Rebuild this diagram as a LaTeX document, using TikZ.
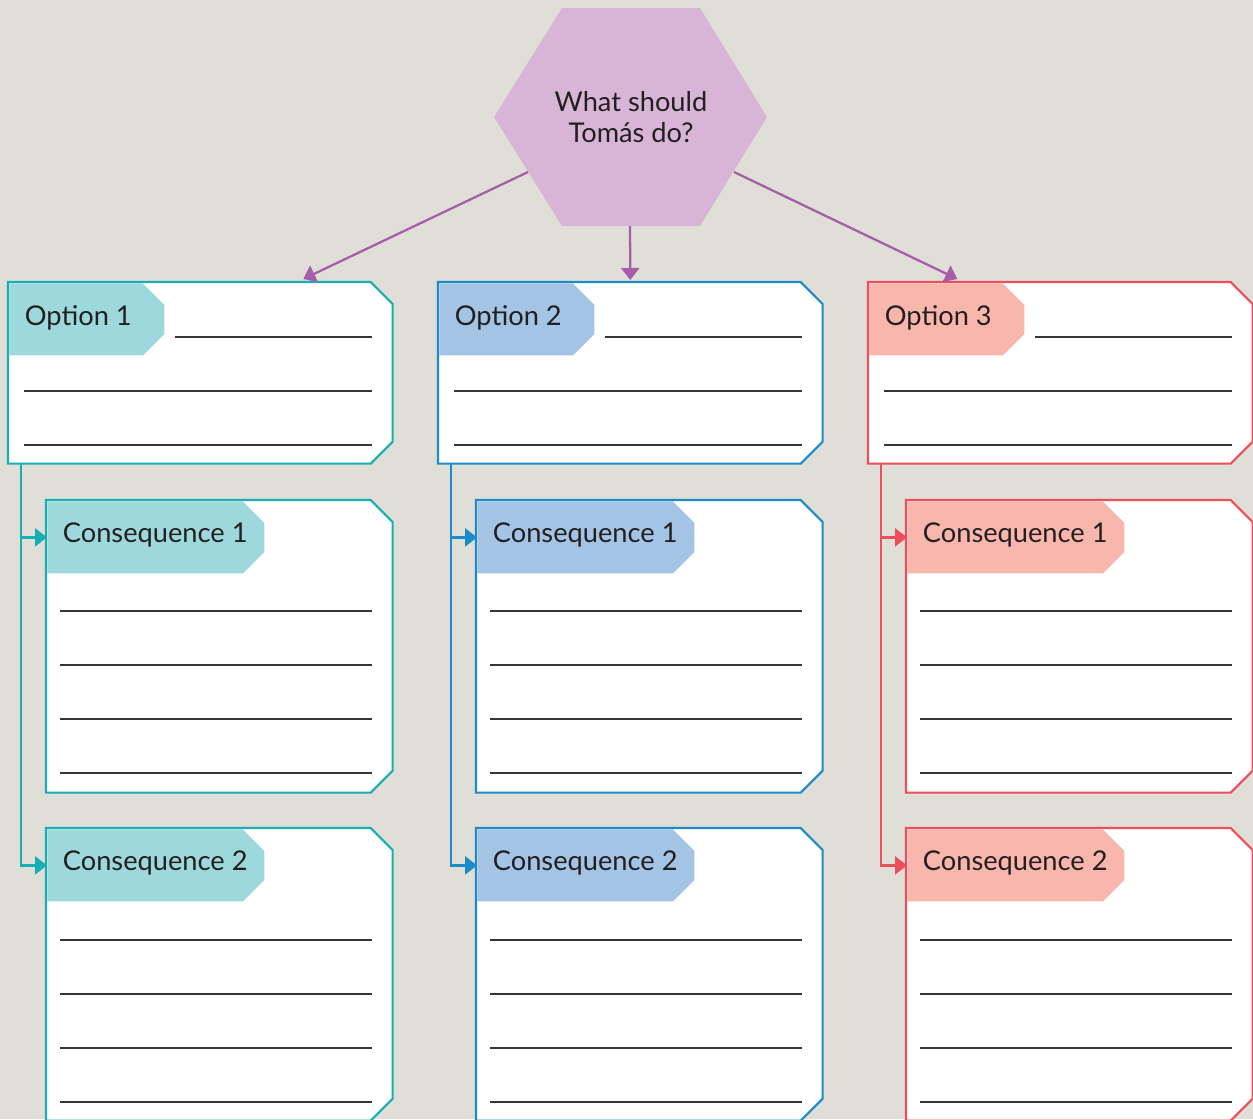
\documentclass[tikz,border=0pt]{standalone}
\usepackage{fontspec}
\setmainfont{Lato}
\usetikzlibrary{arrows.meta}
\definecolor{paper}{HTML}{E0DFD7}
\definecolor{ink}{HTML}{231F20}
\definecolor{hexfill}{HTML}{D8B5D6}
\definecolor{hexline}{HTML}{A65EAA}
\definecolor{tealline}{HTML}{17AEB5}
\definecolor{tealtab}{HTML}{9DD9DC}
\definecolor{blueline}{HTML}{1B8BC9}
\definecolor{bluetab}{HTML}{A3C4E4}
\definecolor{redline}{HTML}{EE4D5B}
\definecolor{redtab}{HTML}{F9B6AD}

\begin{document}
\begin{tikzpicture}[x=0.02cm,y=-0.02cm,
edge/.style={draw,fill=white,line width=1.2pt},
tabfill/.style={fill},
card/.style={%
rectangle,
anchor=north west,
inner sep=0pt,
append after command={\pgfextra{%
\draw[edge] (\tikzlastnode.north west) -- ([xshift=-4.4mm]\tikzlastnode.north east)
 -- ([yshift=-4.4mm]\tikzlastnode.north east) -- ([yshift=4.4mm]\tikzlastnode.south east)
 -- ([xshift=-4.4mm]\tikzlastnode.south east) -- (\tikzlastnode.south west) -- cycle;}}
},
tab/.style={%
rectangle,
anchor=north west,
minimum height=14.4mm,
inner sep=0pt,
path picture={%
\fill[tabfill] (path picture bounding box.north west) -- ([xshift=-4.3mm]path picture bounding box.north east)
 -- ([yshift=-4.3mm]path picture bounding box.north east) -- ([yshift=4.3mm]path picture bounding box.south east)
 -- ([xshift=-4.3mm]path picture bounding box.south east) -- (path picture bounding box.south west) -- cycle;}
},
tag/.style={%
font=\fontsize{15.5}{17.5}\selectfont,
text=ink,
anchor=west,
inner sep=0pt,
xshift=3.1mm,
yshift=0.4mm,
},
rule/.style={line width=0.8pt,draw=ink!90},
link/.style={line width=1.3pt,-{Triangle[length=2.4mm,width=3.6mm]}},
]
\useasboundingbox (0,0) rectangle (1253,1119);
\clip (0,0) rectangle (1253,1119);
\fill[paper] (0,0) rectangle (1253,1119);
%% question
\fill[hexfill] (562,8) -- (700,8) -- (767,117) -- (700,226) -- (562,226) -- (494,117) -- cycle;
\node[font=\fontsize{15.5}{17.5}\selectfont,text=ink,align=center] at (631,117) (q) {What should\\Tomás do?};
\coordinate (qw) at (528,172);
\coordinate (qs) at (630,226);
\coordinate (qe) at (734,172);
\begin{scope}[edge/.append style={draw=tealline},tabfill/.append style={fill=tealtab},link/.append style={color=tealline}]
%% Option 1
\node[card,minimum width=76.8mm,minimum height=36.2mm]at(8,282)(o1){};
\node[tab,minimum width=31mm,label={[tag]west:Option 1}]at([shift={(0.6pt,-0.6pt)}]o1.north west)(o1t){};
\draw[rule] (175,337) -- (372,337) (24,391) -- (372,391) (24,445) -- (372,445);
\node[card,minimum width=69.2mm,minimum height=58.4mm]at(46,500)(a1){};
\node[tab,minimum width=43.4mm,label={[tag]west:Consequence 1}]at([shift={(0.6pt,-0.6pt)}]a1.north west)(a1t){};
\draw[rule] (60,611) -- (372,611) (60,665) -- (372,665) (60,719) -- (372,719) (60,773) -- (372,773);
\node[card,minimum width=69.2mm,minimum height=58.4mm]at(46,828)(a2){};
\node[tab,minimum width=43.4mm,label={[tag]west:Consequence 2}]at([shift={(0.6pt,-0.6pt)}]a2.north west)(a2t){};
\draw[rule] (60,940) -- (372,940) (60,994) -- (372,994) (60,1048) -- (372,1048) (60,1102) -- (372,1102);
\draw[link] ([xshift=2.6mm]o1.south west) |- (a1t.west);
\draw[link] ([xshift=2.6mm]o1.south west) |- (a2t.west);
\end{scope}
\begin{scope}[shift={(430,0)},edge/.append style={draw=blueline},tabfill/.append style={fill=bluetab},link/.append style={color=blueline}]
%% Option 2
\node[card,minimum width=76.8mm,minimum height=36.2mm]at(8,282)(o2){};
\node[tab,minimum width=31mm,label={[tag]west:Option 2}]at([shift={(0.6pt,-0.6pt)}]o2.north west)(o2t){};
\draw[rule] (175,337) -- (372,337) (24,391) -- (372,391) (24,445) -- (372,445);
\node[card,minimum width=69.2mm,minimum height=58.4mm]at(46,500)(b1){};
\node[tab,minimum width=43.4mm,label={[tag]west:Consequence 1}]at([shift={(0.6pt,-0.6pt)}]b1.north west)(b1t){};
\draw[rule] (60,611) -- (372,611) (60,665) -- (372,665) (60,719) -- (372,719) (60,773) -- (372,773);
\node[card,minimum width=69.2mm,minimum height=58.4mm]at(46,828)(b2){};
\node[tab,minimum width=43.4mm,label={[tag]west:Consequence 2}]at([shift={(0.6pt,-0.6pt)}]b2.north west)(b2t){};
\draw[rule] (60,940) -- (372,940) (60,994) -- (372,994) (60,1048) -- (372,1048) (60,1102) -- (372,1102);
\draw[link] ([xshift=2.6mm]o2.south west) |- (b1t.west);
\draw[link] ([xshift=2.6mm]o2.south west) |- (b2t.west);
\end{scope}
\begin{scope}[shift={(860,0)},edge/.append style={draw=redline},tabfill/.append style={fill=redtab},link/.append style={color=redline}]
%% Option 3
\node[card,minimum width=76.8mm,minimum height=36.2mm]at(8,282)(o3){};
\node[tab,minimum width=31mm,label={[tag]west:Option 3}]at([shift={(0.6pt,-0.6pt)}]o3.north west)(o3t){};
\draw[rule] (175,337) -- (372,337) (24,391) -- (372,391) (24,445) -- (372,445);
\node[card,minimum width=69.2mm,minimum height=58.4mm]at(46,500)(c1){};
\node[tab,minimum width=43.4mm,label={[tag]west:Consequence 1}]at([shift={(0.6pt,-0.6pt)}]c1.north west)(c1t){};
\draw[rule] (60,611) -- (372,611) (60,665) -- (372,665) (60,719) -- (372,719) (60,773) -- (372,773);
\node[card,minimum width=69.2mm,minimum height=58.4mm]at(46,828)(c2){};
\node[tab,minimum width=43.4mm,label={[tag]west:Consequence 2}]at([shift={(0.6pt,-0.6pt)}]c2.north west)(c2t){};
\draw[rule] (60,940) -- (372,940) (60,994) -- (372,994) (60,1048) -- (372,1048) (60,1102) -- (372,1102);
\draw[link] ([xshift=2.6mm]o3.south west) |- (c1t.west);
\draw[link] ([xshift=2.6mm]o3.south west) |- (c2t.west);
\end{scope}
%% question to options
\draw[link,color=hexline] (qw) -- ([xshift=20.6mm,yshift=0.6mm]o1.north);
\draw[link,color=hexline] (qs) -- ([yshift=0.4mm]o2.north);
\draw[link,color=hexline] (qe) -- ([xshift=-20.6mm,yshift=0.6mm]o3.north);
\end{tikzpicture}
\end{document}
